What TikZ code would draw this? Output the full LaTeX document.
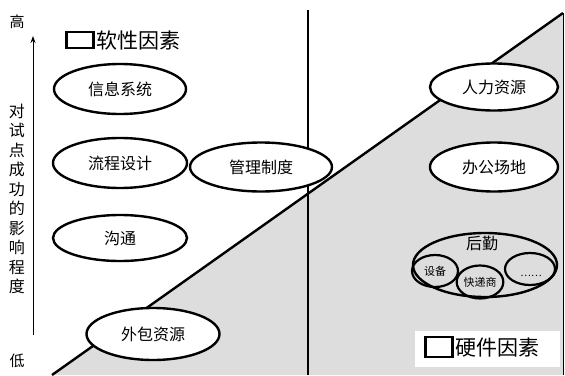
\documentclass[tikz,border=0pt]{standalone}
\usepackage{fontspec}
\setmainfont{Noto Sans CJK SC}
\usetikzlibrary{arrows.meta,shapes.geometric}
\begin{document}
\begin{tikzpicture}[x=1pt,y=-1pt,
  ell/.style={draw=black,line width=2.4pt,ellipse,fill=white,inner sep=0pt,font=\fontsize{16}{16}\selectfont},
  sell/.style={draw=black,line width=2.2pt,ellipse,inner sep=0pt,font=\fontsize{11}{11}\selectfont},
  lbl/.style={font=\fontsize{15}{15}\selectfont,inner sep=0pt},
  legbox/.style={draw=black,line width=2.4pt,minimum width=27pt,minimum height=16pt,inner sep=0pt}
]
\useasboundingbox (0,0) rectangle (565,375);
% triangle
\fill[gray!27] (52,375) -- (563,13) -- (563,375) -- cycle;
\draw[line width=2.4pt] (52,375) -- (563,13);
\draw[line width=1pt] (563,13) -- (563,375);
% vertical divider
\coordinate (vt) at (308,10);
\coordinate (vb) at (308,375);
\draw[line width=1.6pt] (vt) -- (vb);
% axis
\coordinate (ab) at (33,335);
\coordinate (at) at (33,36);
\draw[line width=1pt,-{Stealth[length=7pt,width=5pt]}] (ab) -- (at);
\node[lbl] (hi) at (17,22) {高};
\node[lbl] (lo) at (17,361) {低};
\node[lbl,align=center,font=\fontsize{16}{19.5}\selectfont] (axl) at (17,199) {对\\试\\点\\成\\功\\的\\影\\响\\程\\度};
% legend soft
\node[legbox] (sbox) at (80,40) {};
\node[lbl,anchor=west,font=\fontsize{21}{21}\selectfont] (stxt) at (96,41) {软性因素};
% ellipses left
\node[ell,minimum width=132pt,minimum height=50pt] (e1) at (120,89) {信息系统};
\node[ell,minimum width=134pt,minimum height=50pt] (e2) at (120,163) {流程设计};
\node[ell,minimum width=134pt,minimum height=46pt] (e3) at (120,238) {沟通};
\node[ell,minimum width=142pt,minimum height=49pt] (e4) at (261,167) {管理制度};
\node[ell,minimum width=133pt,minimum height=52pt] (e5) at (153,334) {外包资源};
% ellipses right
\node[ell,minimum width=128pt,minimum height=47pt] (e6) at (494,87) {人力资源};
\node[ell,minimum width=128pt,minimum height=49pt] (e7) at (494,167) {办公场地};
\node[ell,fill=none,minimum width=144pt,minimum height=64pt] (e8) at (485,265) {};
\node[lbl,font=\fontsize{16}{16}\selectfont] (hq) at (482,243) {后勤};
\node[sell,minimum width=46pt,minimum height=32pt] (s1) at (435,271) {设备};
\node[sell,minimum width=45pt,minimum height=33pt] (s2) at (480,282) {快递商};
\node[sell,minimum width=50pt,minimum height=32pt] (s3) at (530,269) {};
\node[lbl,font=\fontsize{10}{10}\selectfont] (dots) at (531,276) {……};
% legend hard
\fill[white] (415,331) rectangle (560,367);
\node[legbox,minimum width=27pt,minimum height=20pt] (hbox) at (439,347) {};
\node[lbl,anchor=west,font=\fontsize{21}{21}\selectfont] (htxt) at (455,348) {硬件因素};
\end{tikzpicture}
\end{document}
